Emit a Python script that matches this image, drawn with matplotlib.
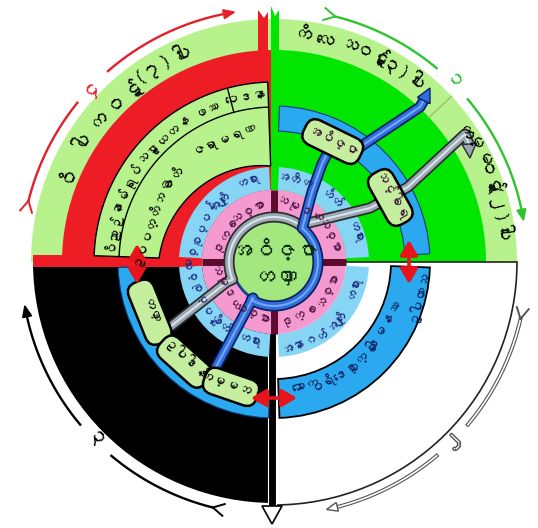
import numpy as np
import matplotlib
matplotlib.use("Agg")
import matplotlib.pyplot as plt
from matplotlib.patches import Wedge, Circle, Polygon, FancyBboxPatch, Rectangle
from matplotlib.transforms import Affine2D
from matplotlib import font_manager
import matplotlib.patheffects as pe
import warnings, logging
logging.getLogger('matplotlib.font_manager').setLevel(logging.ERROR)
warnings.filterwarnings('ignore')


def myanmar_families():
    out = []
    try:
        from matplotlib.ft2font import FT2Font
    except Exception:
        return out
    for f in font_manager.fontManager.ttflist:
        if f.name in out:
            continue
        try:
            cm = FT2Font(f.fname).get_charmap()
        except Exception:
            continue
        if 0x1021 in cm and 0x102D in cm:
            out.append(f.name)
    return out


MY = myanmar_families()
plt.rcParams['font.family'] = (MY[:1] if MY else []) + ['DejaVu Sans']

# ---------------- data ----------------
outer_tl = ["ဝိ", "ပါ", "က", "ဝ", "ဋ်", "(၇)", "ပါး"]
outer_tl_ang = [157, 148, 141, 135, 129, 122, 114]
outer_tr = ["ကိ", "လေ", "သ", "ဝဋ်", "(၃)", "ပါး"]
outer_tr_ang = [83, 77, 71, 65, 59, 52]
outer_rt = ["က", "မ္မ", "ဝဋ်", "(၂)", "ပါး"]
outer_rt_ang = [34, 28, 21, 14, 7]

band_outer_words = ["ဝိညာဉ်", "နာမ်ရုပ်", "သဠာယတန", "ဖဿ", "ဝေဒနာ"]
band_outer_ang = [169, 153, 132, 114, 100]
band_inner_words = ["ဥပပတ္တိဘဝ", "ဇာတိ", "ဇရာမရဏ"]
band_inner_ang = [161, 140, 112]

cyan_tl = ["ပစ္စုပ္ပန်", "အကျိုး", "တရား"]
cyan_tl_ang = [158, 132, 108]
cyan_tr = ["အတီတ", "ဟိတ်", "တရား"]
cyan_tr_ang = [76, 48, 20]
cyan_bl = ["ပစ္စုပ္ပန်", "ဟိတ်", "တရား"]
cyan_bl_ang = [204, 229, 252]
cyan_br = ["အနာဂတ်", "အကျိုး", "တရား"]
cyan_br_ang = [291, 317, 342]

pink_tl = ["ဒုက္ခ", "သစ္စာ"]
pink_tl_ang = [150, 118]
pink_tr = ["သမုဒယ", "သစ္စာ"]
pink_tr_ang = [65, 25]
pink_bl = ["သမုဒယ", "သစ္စာ"]
pink_bl_ang = [208, 246]
pink_br = ["ဒုက္ခ", "သစ္စာ"]
pink_br_ang = [295, 333]

br_band_words = ["သောက", "ပရိဒေဝ", "ဒုက္ခ", "ဒေါမနဿ"]
br_band_ang = [-76, -62, -47, -30]
br_band_outer = ["ဥပါယာသ"]
br_band_outer_ang = [-13]

center_words = ["အဝိဇ္ဇာ", "တဏှာ"]

box_labels = ["အဝိဇ္ဇာ", "သင်္ခါရ", "တဏှာ", "ဥပါဒါန်", "ကမ္မဘဝ"]
box_ang = [64, 29, 202, 228, 251]
box_rad = [134, 133, 134, 134, 132]
box_len = [62, 58, 66, 60, 56]

cycle_labels = ["၁", "၂", "၃", "၄"]
cycle_mid = [45, -45, 225, 136]
cycle_tail = [76, -13, 256, 166]
cycle_head = [9.5, -78, 190, 99]
cycle_color = ['#2ec42e', 'white', 'black', '#e3202a']

# ---------------- style ----------------
LG = '#b8f28c'
RED = '#ee1c25'
GREEN = '#00e600'
BLUE = '#2aa9f0'
CYAN = '#86d5f5'
PINK = '#f59ad0'
MAROON = '#5c0a2e'
CENTER = '#a3e77f'
BOX = '#c5ef9f'

fig = plt.figure(figsize=(5.38, 5.28), dpi=100)
ax = fig.add_axes([0, 0, 1, 1])
ax.set_xlim(-274, 264)
ax.set_ylim(-266, 262)
ax.axis('off')


def P(r, a):
    return r * np.cos(np.radians(a)), r * np.sin(np.radians(a))


def is_top(a):
    return np.sin(np.radians(a)) > 0


def arc_text(words, angs, r, size, color, top=True, weight='normal', z=10):
    for w, a in zip(words, angs):
        x, y = P(r, a)
        rot = a - 90 if top else a + 90
        ax.text(x, y, w, rotation=rot, rotation_mode='anchor', ha='center',
                va='center', fontsize=size, color=color, fontweight=weight, zorder=z)


# quadrants
ax.add_patch(Wedge((0, 0), 243, 90, 180, fc=LG, ec='none', zorder=1))
ax.add_patch(Wedge((0, 0), 212, 90, 180, fc=RED, ec='none', zorder=1))
ax.add_patch(Wedge((0, 0), 243, 0, 90, fc=LG, ec='none', zorder=1))
ax.add_patch(Wedge((0, 0), 212, 0, 90, fc=GREEN, ec='none', zorder=1))
ax.add_patch(Wedge((0, 0), 241, 180, 270, fc='black', ec='none', zorder=1))
ax.add_patch(Wedge((0, 0), 243, 270, 360, fc='white', ec='#222222', lw=1.2, zorder=1))
x0, y0 = P(212, 43); x1, y1 = P(243, 43)
ax.plot([x0, x1], [y0, y1], color='#9cc070', lw=1, zorder=2)

# bars
ax.add_patch(Rectangle((-241, -5), 241, 12, fc=RED, ec='none', zorder=2))
ax.add_patch(Polygon([(-16, 0), (-6, 0), (-6, 250), (-10, 244), (-16, 252)], fc=RED, ec='none', zorder=2))
ax.add_patch(Polygon([(-3, 0), (5, 0), (5, 252), (1, 246), (-3, 256)], fc=GREEN, ec='none', zorder=2))
ax.add_patch(Rectangle((-6, -246), 8, 246, fc='black', ec='white', lw=0.8, zorder=2))
ax.add_patch(Polygon([(-12, -244), (8, -244), (-2, -262)], fc='white', ec='black', lw=1.2, zorder=2))

# text band (top-left)
ta = np.linspace(92, 178, 90)
rin = np.interp(ta, [92, 178], [96, 115])
outer = np.array([P(180, a) for a in ta])
inner = np.array([P(r, a) for r, a in zip(rin[::-1], ta[::-1])])
ax.add_patch(Polygon(np.vstack([outer, inner]), closed=True, fc=LG, ec='black', lw=1, zorder=3))
sep = np.array([P(155, a) for a in ta])
ax.plot(sep[:, 0], sep[:, 1], color='black', lw=1, zorder=3)
xa, ya = P(155, 105); xb, yb = P(180, 105)
ax.plot([xa, xb], [ya, yb], color='black', lw=1, zorder=3)

# blue bands
ax.add_patch(Wedge((0, 0), 156, 3, 88, width=25, fc=BLUE, ec='#0b3d7a', lw=0.8, zorder=3))
ax.add_patch(Wedge((0, 0), 156, 272, 358, width=39, fc=BLUE, ec='black', lw=1.3, zorder=3))
ax.add_patch(Wedge((0, 0), 156, 182, 268, width=19, fc=BLUE, ec='#0b3d7a', lw=0.8, zorder=3))

# cyan + pink rings
for a0, a1 in [(93, 177), (3, 87), (183, 267), (273, 357)]:
    ax.add_patch(Wedge((0, 0), 95, a0, a1, width=23, fc=CYAN, ec='none', zorder=4))
ax.add_patch(Wedge((0, 0), 72, 0, 360, width=29, fc=PINK, ec='none', zorder=4))
for a in [0, 90, 180, 270]:
    xa, ya = P(43, a); xb, yb = P(72, a)
    ax.plot([xa, xb], [ya, yb], color=MAROON, lw=5, zorder=4, solid_capstyle='butt')

# center
ax.add_patch(Circle((0, 0), 42, fc=CENTER, ec='#1c3d8c', lw=2, zorder=5))


def draw_path(pts, dark, mid, light, z):
    pts = np.array(pts)
    ax.plot(pts[:, 0], pts[:, 1], color=dark, lw=8, zorder=z, solid_joinstyle='round', solid_capstyle='round')
    ax.plot(pts[:, 0], pts[:, 1], color=mid, lw=5.5, zorder=z, solid_joinstyle='round', solid_capstyle='round')
    ax.plot(pts[:, 0], pts[:, 1], color=light, lw=1.5, zorder=z, solid_joinstyle='round', solid_capstyle='round')


def head(tip, frm, L, W, fc, ec, z):
    tip = np.array(tip, float); frm = np.array(frm, float)
    d = tip - frm; d /= np.hypot(*d)
    n = np.array([-d[1], d[0]])
    base = tip - d * L
    ax.add_patch(Polygon([tip, base + n * W / 2, base - n * W / 2], fc=fc, ec=ec, lw=1, zorder=z))


# gray path
g = [(-104, -65), (-47, -20)] + [P(45, a) for a in np.linspace(203, 55, 40)] + \
    [(96, 54), (116, 65), (134, 75), (191, 128), (195, 118)]
draw_path(g, '#2b2b2b', '#9aa8b4', '#dbe3e8', 6)
head((196, 104), (195, 118), 14, 14, '#9aa8b4', '#2b2b2b', 6)
# blue path
b = [(-58, -105), (-21, -36)] + [P(44, a) for a in np.linspace(-121, 50, 50)] + \
    [(38, 70), (48, 98), (59, 120), (86, 115), (146, 155), (150, 162)]
draw_path(b, '#0b1f5c', '#2e6fe0', '#78a6f2', 6)
head((156, 174), (150, 162), 14, 14, '#2e6fe0', '#0b1f5c', 6)

# boxes
for lab, a, r, L in zip(box_labels, box_ang, box_rad, box_len):
    cx, cy = P(r, a)
    rot = a - 90 if a < 180 else a + 90
    W = 27
    tr = Affine2D().rotate_deg(rot).translate(cx, cy) + ax.transData
    ax.add_patch(FancyBboxPatch((-L / 2, -W / 2), L, W, boxstyle="round,pad=0,rounding_size=11",
                                fc=BOX, ec='black', lw=1.8, transform=tr, zorder=7))
    ax.text(cx, cy, lab, rotation=rot, rotation_mode='anchor', ha='center', va='center',
            fontsize=10, color='#3a0a30' if a < 180 else 'black', zorder=8)

# red double arrows
for (xa, ya, xb, yb) in [(-137, 18, -137, -22), (135, 22, 135, -22), (-23, -136, 23, -136)]:
    ax.annotate('', xy=(xb, yb), xytext=(xa, ya),
                arrowprops=dict(arrowstyle='<|-|>,head_length=0.6,head_width=0.35', color='#e8141c',
                                lw=2.6, mutation_scale=15, shrinkA=0, shrinkB=0), zorder=9)

# outer cycle arrows
R = 253
for lab, m, t, h, c in zip(cycle_labels, cycle_mid, cycle_tail, cycle_head, cycle_color):
    s = 1 if t > h else -1
    seg1 = np.linspace(t, m + s * 5, 40)
    seg2 = np.linspace(m - s * 5, h + s * 2, 40)
    for seg in (seg1, seg2):
        pts = np.array([P(R, a) for a in seg])
        if c == 'white':
            ax.plot(pts[:, 0], pts[:, 1], color='#555555', lw=2.8, zorder=9)
            ax.plot(pts[:, 0], pts[:, 1], color='white', lw=1.2, zorder=9)
        else:
            ax.plot(pts[:, 0], pts[:, 1], color=c, lw=1.7, zorder=9)
    ec = '#555555' if c == 'white' else c
    head(P(R, h), P(R, h + s * 4), 11, 9, c, ec, 9)
    tx, ty = P(R, t)
    for dr in (-6, 6):
        fx, fy = P(R + dr, t + s * 2.5)
        ax.plot([tx, fx], [ty, fy], color=ec, lw=1.4, zorder=9)
    lx, ly = P(R, m)
    rot = m - 90 if is_top(m) else m + 90
    txt = ax.text(lx, ly, lab, rotation=rot, rotation_mode='anchor', ha='center', va='center',
                  fontsize=15, color=c, zorder=9)
    if c == 'white':
        txt.set_path_effects([pe.withStroke(linewidth=2, foreground='#555555')])

# texts
arc_text(outer_tl, outer_tl_ang, 228, 15, 'black', True, 'bold')
arc_text(outer_tr, outer_tr_ang, 228, 14, 'black', True, 'bold')
arc_text(outer_rt, outer_rt_ang, 228, 14, 'black', True, 'bold')
arc_text(band_outer_words, band_outer_ang, 167, 10, 'black')
arc_text(band_inner_words, band_inner_ang, 133, 10, 'black')
arc_text(cyan_tl, cyan_tl_ang, 84, 9, '#1a2a80')
arc_text(cyan_tr, cyan_tr_ang, 84, 9, '#1a2a80')
arc_text(cyan_bl, cyan_bl_ang, 84, 9, '#1a2a80', top=False)
arc_text(cyan_br, cyan_br_ang, 84, 9, '#1a2a80', top=False)
arc_text(pink_tl, pink_tl_ang, 58, 9.5, '#4a1040')
arc_text(pink_tr, pink_tr_ang, 58, 9.5, '#4a1040')
arc_text(pink_bl, pink_bl_ang, 58, 9.5, '#4a1040', top=False)
arc_text(pink_br, pink_br_ang, 58, 9.5, '#4a1040', top=False)
arc_text(br_band_words, br_band_ang, 128, 10, '#0b1f5c', top=False)
arc_text(br_band_outer, br_band_outer_ang, 145, 10, '#0b1f5c', top=False)
ax.text(0, 13, center_words[0], ha='center', va='center', fontsize=16, color='#0b2a10', zorder=10)
ax.text(0, -16, center_words[1], ha='center', va='center', fontsize=16, color='#0b2a10', zorder=10)

fig.savefig('out.png', dpi=100, facecolor='white')
